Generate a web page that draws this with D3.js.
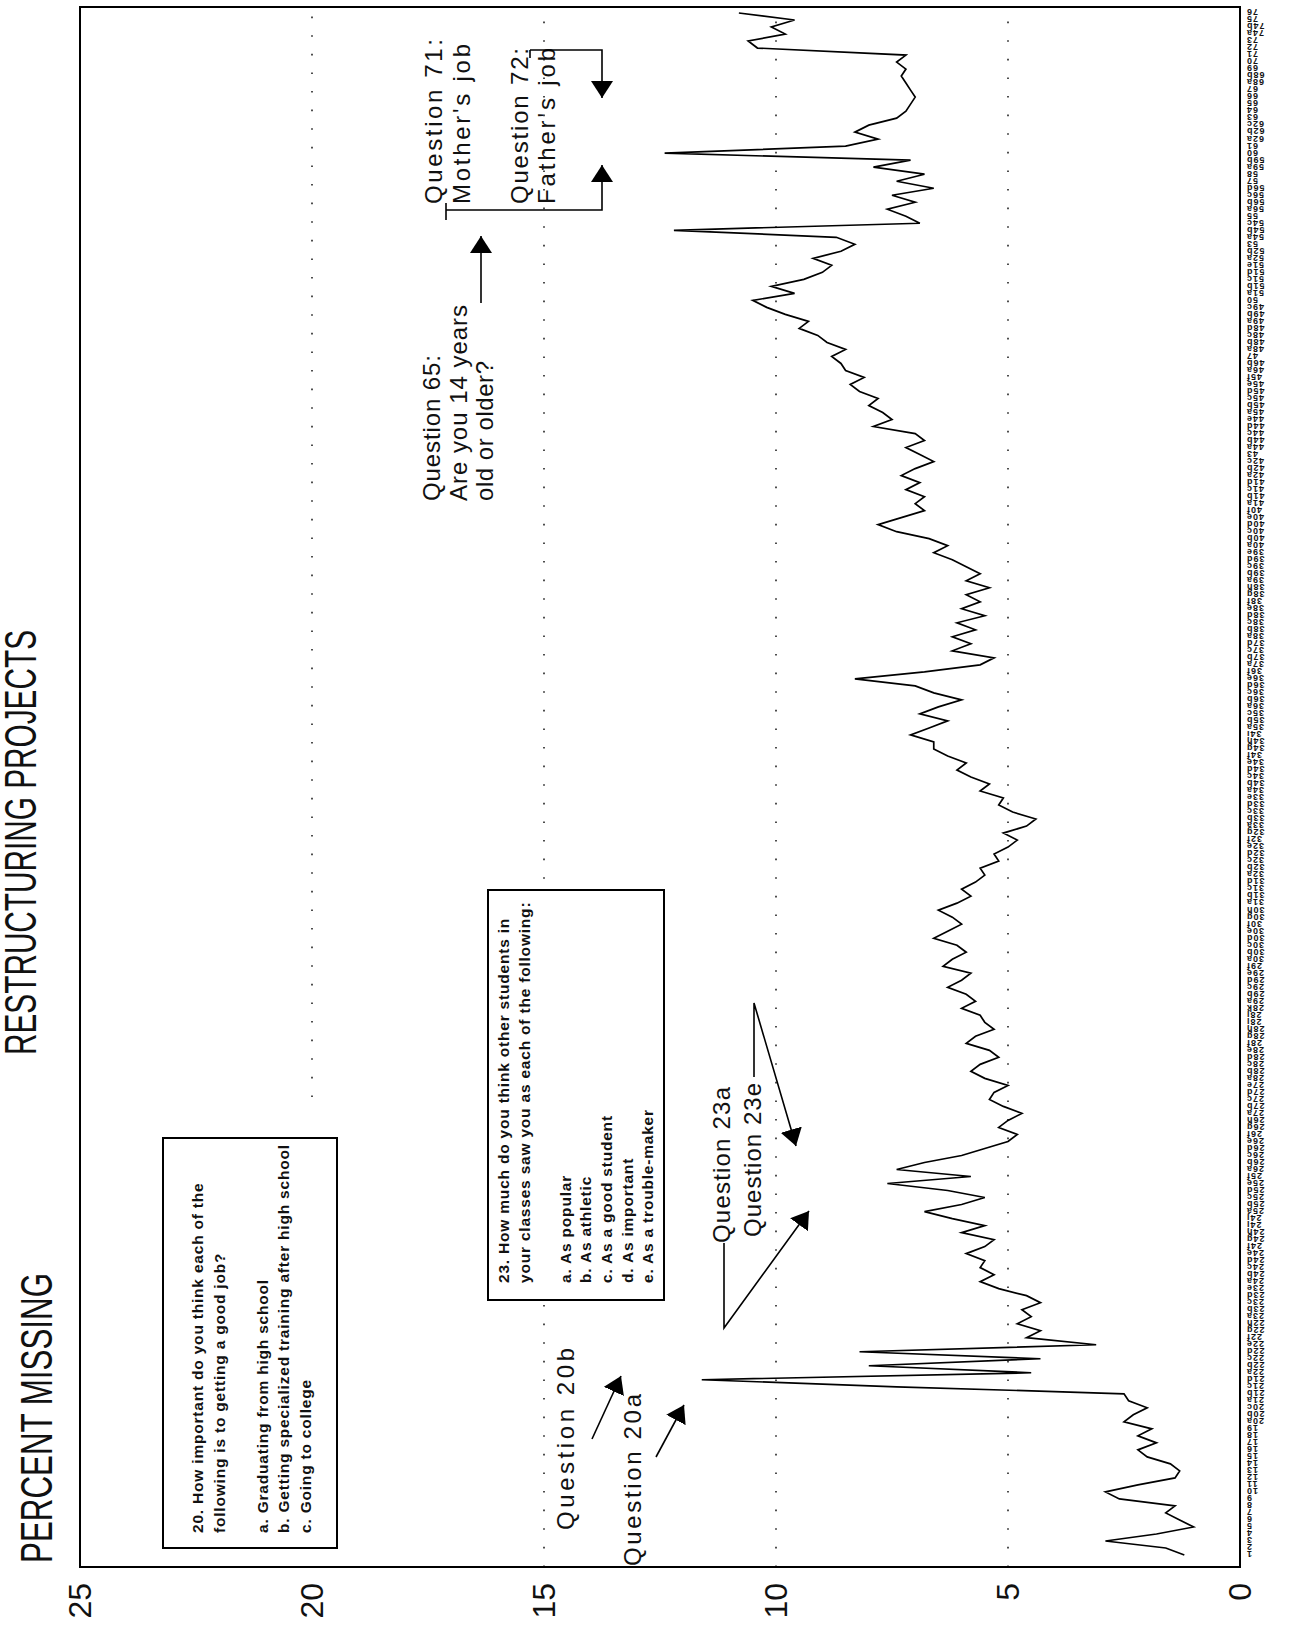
<!DOCTYPE html>
<meta charset="utf-8">
<script src="https://d3js.org/d3.v7.min.js"></script>
<style>
  body { margin: 0; background: #fff; }
  text { font-family: "Liberation Sans", Arial, Helvetica, sans-serif; fill: #111; }
</style>
<div id="my_dataviz"></div>
<script>

// question items along the (unrotated) horizontal axis
var firstItems = ["1","2","3","4","5","6","7","8","9","10","11","12","13","14","15","16","17","18","19"];
var questionParts = [
  ["20","abc"],["21","abcd"],["22","abcdefgh"],["23","abcde"],["24","abcdefghij"],["25","abcdef"],
  ["26","abcdefgh"],["27","abcde"],["28","abcdefghijk"],["29","abcdef"],["30","abcdefgh"],["31","abcd"],
  ["32","abcdefg"],["33","abcde"],["34","abcdefghi"],["35","abc"],["36","abcdef"],["37","abcd"],
  ["38","abcdefgh"],["39","abcde"],["40","abcdef"],["41","abcd"],["42","abc"],["43",""],["44","abcde"],
  ["45","abcdef"],["46","ab"],["47",""],["48","abcd"],["49","abc"],["50",""],["51","abcde"],["52","ab"],
  ["53",""],["54","abc"],["55",""],["56","abcd"],["57",""],["58",""],["59","ab"],["60",""],["61",""],
  ["62","abc"],["63",""],["64",""],["65",""],["66",""],["67",""],["68","ab"],["69",""],["70",""],
  ["71",""],["72",""],["73",""],["74","ab"],["75",""],["76",""]
];

// percent missing for each item
var pctMissing = [
  1.2, 1.6, 2.9, 1.8, 1.0, 1.3, 1.6, 1.4, 2.6, 2.9, 2.2, 1.4, 1.3, 1.5, 2.0, 2.2, 1.8, 2.2, 1.9, 2.5, 2.3, 2.0, 2.4, 2.5,
  7.4, 11.6, 4.5, 8.0, 4.3, 8.2, 3.1,
  4.6, 4.3, 4.8, 4.5, 4.7, 4.3, 4.6,
  5.2, 5.6, 5.3, 5.6, 5.5, 5.9, 5.5,
  5.3, 6.0, 5.5, 6.2, 6.8,
  6.0, 5.5, 6.3, 7.6,
  5.8, 7.4, 6.8, 6.0, 5.5, 5.0,
  4.8, 5.2, 5.0, 4.7, 5.1, 5.4, 5.3, 5.0, 5.5, 5.8, 5.6, 5.2, 5.4, 5.9, 5.7, 5.3, 5.5, 5.6, 6.0, 5.7,
  5.9, 6.3, 6.0, 5.8, 6.4, 6.2, 5.9, 6.1, 6.6, 6.3, 6.0, 6.2, 6.5, 6.1, 5.8, 6.0, 5.7, 5.5, 5.6, 5.2,
  5.3, 5.0, 4.8, 5.1, 4.6, 4.4, 4.9, 5.2, 5.1, 5.6, 5.4, 5.8, 6.1, 5.9, 6.3, 6.6,
  6.6, 7.1, 6.7, 6.3, 6.9, 6.5, 6.0, 6.6, 7.0,
  8.3, 6.8, 5.6, 5.3, 6.2,
  5.8, 6.2, 5.7, 6.1, 5.5, 6.0, 5.6, 5.9, 5.4, 5.9,
  5.6, 5.9, 6.2, 6.6, 6.3, 6.7, 7.4, 7.8, 7.3, 6.8,
  7.0, 6.8, 7.2, 6.9, 7.3, 7.0, 6.6, 6.9, 7.2, 6.8,
  7.0, 7.9, 7.5, 7.7, 8.0, 7.8, 8.2, 8.4, 8.1, 8.5,
  8.6, 8.8, 8.5, 8.9, 9.1, 9.5, 9.3, 9.8, 10.2, 10.5,
  9.6, 10.1, 9.4, 9.0, 8.8, 9.2, 8.6, 8.3, 8.7, 12.2,
  6.9, 7.2, 7.6, 7.0, 7.5, 6.6, 7.4, 6.8, 7.9, 7.1,
  12.4, 8.5, 7.8, 8.3, 8.0, 7.4, 7.2, 7.1, 7.0, 7.1,
  7.2, 7.3, 7.2, 7.4, 7.2, 10.4, 10.6, 9.8, 10.1, 9.6, 10.8
];

var valueTicks = [0, 5, 10, 15, 20, 25];
var gridValues = [5, 10, 15, 20];

var box20Lines = [
  "20. How important do you think each of the",
  "following is to getting a good job?",
  "",
  "a. Graduating from high school",
  "b. Getting specialized training after high school",
  "c. Going to college"
];
var box23Lines = [
  "23. How much do you think other students in",
  "your classes saw you as each of the following:",
  "",
  "a. As popular",
  "b. As athletic",
  "c. As a good student",
  "d. As important",
  "e. As a trouble-maker"
];

var items = firstItems.slice();
questionParts.forEach(function(q) {
  if (q[1] === "") items.push(q[0]);
  else q[1].split("").forEach(function(c) { items.push(q[0] + c); });
});
var data = pctMissing.map(function(v, i) { return {item: items[i], v: v}; });

// the page is drawn lying on its side: build it normally, then turn it
var svg = d3.select("#my_dataviz")
  .append("svg")
    .attr("width", 1298)
    .attr("height", 1637);
var g = svg.append("g")
    .attr("transform", "translate(0,1637) rotate(-90)");

var defs = svg.append("defs");
defs.append("marker")
    .attr("id", "tri")
    .attr("viewBox", "0 0 10 10")
    .attr("preserveAspectRatio", "none")
    .attr("refX", 10).attr("refY", 5)
    .attr("markerUnits", "userSpaceOnUse")
    .attr("markerWidth", 17).attr("markerHeight", 22)
    .attr("orient", "auto")
  .append("path")
    .attr("d", "M0,0 L10,5 L0,10 Z")
    .attr("fill", "#000");

var x = d3.scalePoint().domain(items).range([82, 1624]);
var y = d3.scaleLinear().domain([0, 25]).range([1240, 80]);

// dotted reference lines (the 20% one stops short of the first box)
g.selectAll(".grid")
  .data(gridValues)
  .enter()
  .append("line")
    .attr("x1", function(d) { return d === 20 ? 540 : 70; })
    .attr("x2", 1630)
    .attr("y1", function(d) { return y(d); })
    .attr("y2", function(d) { return y(d); })
    .attr("stroke", "#222")
    .attr("stroke-width", 1.6)
    .attr("stroke-dasharray", "1.6,17");

// frame
g.append("rect")
    .attr("x", 70).attr("y", y(25))
    .attr("width", 1560).attr("height", y(0) - y(25))
    .attr("fill", "none")
    .attr("stroke", "#000")
    .attr("stroke-width", 2);

// value axis
var yAxis = g.append("g")
    .attr("transform", "translate(70,0)")
    .call(d3.axisLeft(y).tickValues(valueTicks).tickSize(0).tickPadding(16).tickFormat(d3.format("d")));
yAxis.select(".domain").remove();
yAxis.selectAll("text")
    .style("font-size", "32px")
    .style("font-family", "Liberation Sans, Arial, sans-serif")
    .attr("fill", "#111");

// item axis, labels turned
var xAxis = g.append("g")
    .attr("transform", "translate(0," + y(0) + ")")
    .call(d3.axisBottom(x).tickSize(0));
xAxis.select(".domain").remove();
xAxis.selectAll("text")
    .attr("transform", "rotate(-90)")
    .attr("x", -6).attr("y", 0).attr("dy", "0.35em")
    .style("text-anchor", "end")
    .style("font-size", "9px")
    .style("letter-spacing", "1px")
    .style("font-weight", "bold")
    .style("font-family", "Liberation Sans, Arial, sans-serif")
    .attr("fill", "#111");

// the series
g.append("path")
    .datum(data)
    .attr("fill", "none")
    .attr("stroke", "#000")
    .attr("stroke-width", 1.7)
    .attr("stroke-linejoin", "miter")
    .attr("d", d3.line().x(function(d) { return x(d.item); }).y(function(d) { return y(d.v); }));

// titles
g.append("text")
    .attr("x", 74).attr("y", 52)
    .attr("textLength", 290).attr("lengthAdjust", "spacingAndGlyphs")
    .style("font-size", "44px")
    .text("PERCENT MISSING");
g.append("text")
    .attr("x", 582).attr("y", 36)
    .attr("textLength", 425).attr("lengthAdjust", "spacingAndGlyphs")
    .style("font-size", "44px")
    .text("RESTRUCTURING PROJECTS");

// question boxes
function questionBox(u0, v0, w, h, lines, startU, firstBase, step) {
  g.append("rect")
      .attr("x", u0).attr("y", v0)
      .attr("width", w).attr("height", h)
      .attr("fill", "#fff")
      .attr("stroke", "#000")
      .attr("stroke-width", 2);
  g.selectAll(null)
    .data(lines)
    .enter()
    .append("text")
      .attr("x", startU)
      .attr("y", function(d, i) { return firstBase + i * step; })
      .style("font-size", "15.5px")
      .style("font-weight", "bold")
      .style("letter-spacing", "0.8px")
      .text(function(d) { return d; });
}
questionBox(89, 163, 410, 174, box20Lines, 104, 203, 21.5);
questionBox(337, 488, 410, 176, box23Lines, 354, 509, 20.6);

// annotations
var notes = [
  {t: "Question 71:", u: 1433, v: 442, len: 165},
  {t: "Mother's job", u: 1433, v: 470, len: 160},
  {t: "Question 72:", u: 1433, v: 528, len: 156},
  {t: "Father's job", u: 1433, v: 555, len: 156},
  {t: "Question 65:", u: 1136, v: 440, len: 146},
  {t: "Are you 14 years", u: 1136, v: 467, len: 196},
  {t: "old or older?", u: 1136, v: 493, len: 140},
  {t: "Question 20b", u: 107, v: 574, len: 182},
  {t: "Question 20a", u: 71, v: 641, len: 172},
  {t: "Question 23a", u: 394, v: 730, len: 156},
  {t: "Question 23e", u: 400, v: 761, len: 154}
];
g.selectAll(null)
  .data(notes)
  .enter()
  .append("text")
    .attr("x", function(d) { return d.u; })
    .attr("y", function(d) { return d.v; })
    .attr("textLength", function(d) { return d.len; })
    .attr("lengthAdjust", "spacing")
    .style("font-size", "24px")
    .text(function(d) { return d.t; });

var pointers = [
  [[198, 592], [261, 621]],
  [[180, 656], [232, 684]],
  [[394, 724], [309, 724], [426, 809]],
  [[560, 754], [634, 754], [491, 796]],
  [[1334, 481], [1401, 481]],
  [[1427, 446], [1427, 602], [1472, 602]],
  [[1587, 530], [1587, 602], [1539, 602]]
];
g.selectAll(null)
  .data(pointers)
  .enter()
  .append("path")
    .attr("d", d3.line())
    .attr("fill", "none")
    .attr("stroke", "#000")
    .attr("stroke-width", 1.6)
    .attr("marker-end", "url(#tri)");

// bracket ends
var ticks = [[[1417, 446], [1434, 446]], [[1579, 530], [1587, 530]]];
g.selectAll(null)
  .data(ticks)
  .enter()
  .append("path")
    .attr("d", d3.line())
    .attr("stroke", "#000")
    .attr("stroke-width", 1.6);

</script>
